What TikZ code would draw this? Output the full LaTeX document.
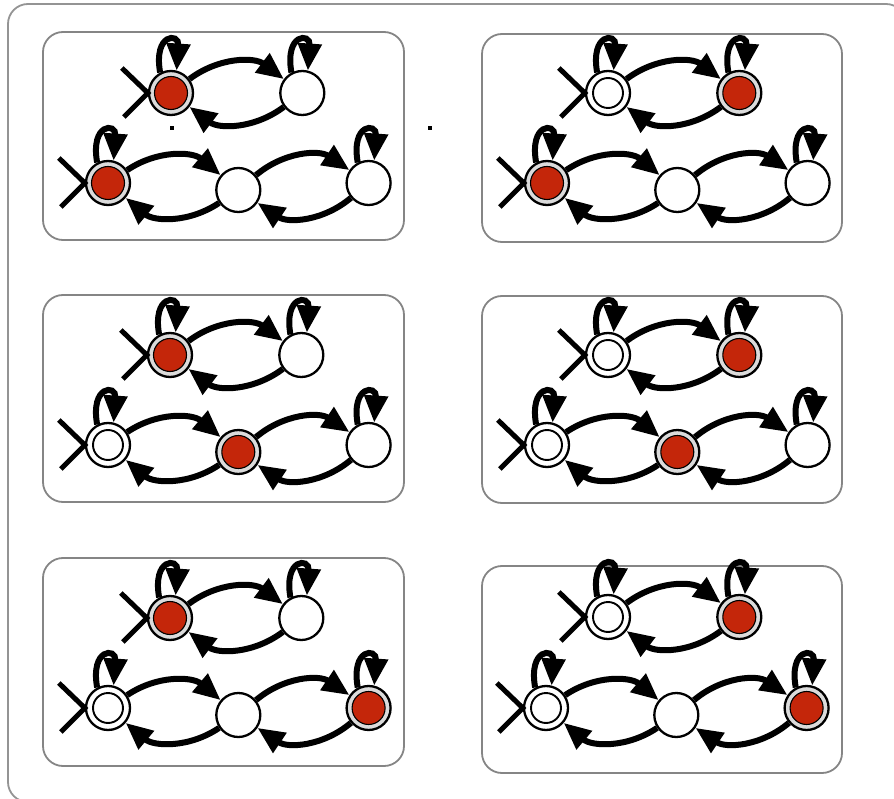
\documentclass[tikz,border=0pt]{standalone}
\usepackage{xcolor}
\usepackage{tikz}
\usetikzlibrary{%
  arrows.meta,
  positioning,
  calc}
\definecolor{curred}{RGB}{196,38,10}
\tikzset{
  %% Frames
  outerbox/.style={
    draw=black!42, line width=1.8pt, rounded corners=20pt},
  panelbox/.style={
    draw=black!48, line width=1.8pt, rounded corners=20pt},
  %% Plain state
  stnode/.style={
    circle, draw=black, line width=2.3pt, fill=white,
    minimum size=44pt, inner sep=0pt},
  %% Accepting state (double circle)
  accnode/.style={
    stnode,
    path picture={\draw[line width=1.9pt]
      (path picture bounding box.center) circle (15pt);}},
  %% Current state (red core)
  curnode/.style={
    stnode, fill=black!14,
    path picture={\draw[line width=1.1pt, fill=curred]
      (path picture bounding box.center) circle (16.5pt);}},
  %% Arrows
  trans/.style={-{Triangle[length=27pt 0 0, width=23pt 0 0]}, line width=6pt},
  initline/.style={line width=5pt},
}
\begin{document}
\begin{tikzpicture}[x=1pt, y=1pt]

  \useasboundingbox (0,0) rectangle (894,-799);

  %% Frames
  \draw[outerbox] (8,-4) rectangle (906,-802);
  \draw[panelbox] (43,-32)  rectangle (404,-240);
  \draw[panelbox] (482,-34) rectangle (842,-242);
  \draw[panelbox] (43,-295) rectangle (404,-502);
  \draw[panelbox] (482,-296) rectangle (842,-503);
  \draw[panelbox] (43,-558) rectangle (404,-766);
  \draw[panelbox] (482,-566) rectangle (842,-773);

  %% Panel a
  \node[curnode] (a-q0) at (171,-93) {};
  \node[stnode, right=85pt of a-q0] (a-q1) {};
  \node[curnode] (a-p0) at (108,-183) {};
  \node[stnode, right=84pt of a-p0, yshift=-7pt] (a-p1) {};
  \node[stnode, right=84pt of a-p1, yshift=7pt] (a-p2) {};

  %% Panel b
  \node[accnode] (b-q0) at (608,-93) {};
  \node[curnode, right=85pt of b-q0] (b-q1) {};
  \node[curnode] (b-p0) at (547,-183) {};
  \node[stnode, right=84pt of b-p0, yshift=-7pt] (b-p1) {};
  \node[stnode, right=84pt of b-p1, yshift=7pt] (b-p2) {};

  %% Panel c
  \node[curnode] (c-q0) at (170,-355) {};
  \node[stnode, right=85pt of c-q0] (c-q1) {};
  \node[accnode] (c-p0) at (108,-445) {};
  \node[curnode, right=84pt of c-p0, yshift=-7pt] (c-p1) {};
  \node[stnode, right=84pt of c-p1, yshift=7pt] (c-p2) {};

  %% Panel d
  \node[accnode] (d-q0) at (608,-355) {};
  \node[curnode, right=85pt of d-q0] (d-q1) {};
  \node[accnode] (d-p0) at (547,-445) {};
  \node[curnode, right=84pt of d-p0, yshift=-7pt] (d-p1) {};
  \node[stnode, right=84pt of d-p1, yshift=7pt] (d-p2) {};

  %% Panel e
  \node[curnode] (e-q0) at (170,-618) {};
  \node[stnode, right=85pt of e-q0] (e-q1) {};
  \node[accnode] (e-p0) at (108,-708) {};
  \node[stnode, right=84pt of e-p0, yshift=-7pt] (e-p1) {};
  \node[curnode, right=84pt of e-p1, yshift=7pt] (e-p2) {};

  %% Panel f
  \node[accnode] (f-q0) at (608,-617) {};
  \node[curnode, right=85pt of f-q0] (f-q1) {};
  \node[accnode] (f-p0) at (546,-708) {};
  \node[stnode, right=84pt of f-p0, yshift=-7pt] (f-p1) {};
  \node[curnode, right=84pt of f-p1, yshift=7pt] (f-p2) {};

  %% Same transitions in every panel
  \foreach \p in {a,b,c,d,e,f} {
    \draw[initline] ($(\p-q0.west)+(-26,25)$) -- (\p-q0.west)
                    -- ($(\p-q0.west)+(-24,-24)$);
    \draw[initline] ($(\p-p0.west)+(-26,25)$) -- (\p-p0.west)
                    -- ($(\p-p0.west)+(-24,-24)$);
    \foreach \s in {q0,q1,p0,p2}
      \draw[trans] (\p-\s.118) .. controls +(100:40) and +(86:38) .. (\p-\s.76);
    \draw[trans] (\p-q0) to[bend left=37] (\p-q1);
    \draw[trans] (\p-q1) to[bend left=37] (\p-q0);
    \draw[trans] (\p-p0) to[bend left=37] (\p-p1);
    \draw[trans] (\p-p1) to[bend left=37] (\p-p0);
    \draw[trans] (\p-p1) to[bend left=37] (\p-p2);
    \draw[trans] (\p-p2) to[bend left=37] (\p-p1);
  }

  %% Stray marks
  \fill (170,-126) rectangle (174,-130);
  \fill (428,-126) rectangle (432,-130);

\end{tikzpicture}
\end{document}
